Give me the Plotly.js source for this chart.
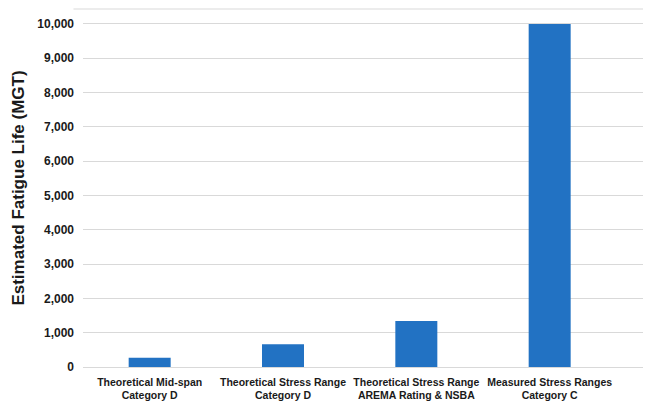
<!DOCTYPE html>
<html>
<head>
<meta charset="utf-8">
<script src="https://cdn.plot.ly/plotly-3.0.1.min.js"></script>
<style>html,body{margin:0;padding:0;background:#fff;}#chart{width:649px;height:406px;}</style>
</head>
<body>
<div id="chart"></div>
<script>
const categories = [
  "Theoretical Mid-span<br>Category D",
  "Theoretical Stress Range<br>Category D",
  "Theoretical Stress Range<br>AREMA Rating & NSBA",
  "Measured Stress Ranges<br>Category C"
];
const fatigueLife = [270, 660, 1340, 10000];
const yTickVals = [0,1000,2000,3000,4000,5000,6000,7000,8000,9000,10000];
const yTickText = ["0","1,000","2,000","3,000","4,000","5,000","6,000","7,000","8,000","9,000","10,000"];

const fontFam = '"Liberation Sans Narrow", "Arial Narrow", "Liberation Sans", Arial, sans-serif';

Plotly.newPlot('chart', [{
  type: 'bar',
  x: [0,1,2,3],
  y: fatigueLife,
  width: 0.315,
  marker: {color: '#2272c3'},
  hoverinfo: 'none'
}], {
  width: 649, height: 406,
  margin: {l: 83, r: 6, t: 9, b: 39},
  paper_bgcolor: '#fff', plot_bgcolor: '#fff',
  showlegend: false,
  xaxis: {
    range: [-0.5, 3.7],
    tickvals: [0,1,2,3],
    ticktext: categories,
    tickangle: 0,
    tickfont: {family: fontFam, size: 10.5, color: '#1a1a1a', weight: 'bold'},
    showgrid: false, zeroline: false, showline: false, ticks: '',
    ticklabelstandoff: 7
  },
  yaxis: {
    range: [0, 10437],
    tickvals: yTickVals,
    ticktext: yTickText,
    tickfont: {family: fontFam, size: 12, color: '#1a1a1a', weight: 'bold'},
    gridcolor: '#d9d9d9', gridwidth: 1,
    zeroline: true, zerolinecolor: '#d9d9d9', zerolinewidth: 1,
    showline: false, ticks: '',
    ticklabelstandoff: 8,
    title: {text: 'Estimated Fatigue Life (MGT)', font: {family: fontFam, size: 17, color: '#1a1a1a', weight: 'bold'}, standoff: 8}
  },
  shapes: [{
    type: 'line', xref: 'paper', yref: 'paper', x0: -0.017, x1: 1, y0: 1, y1: 1,
    line: {color: '#d9d9d9', width: 1}
  }]
}, {displayModeBar: false, staticPlot: true});
</script>
</body>
</html>
